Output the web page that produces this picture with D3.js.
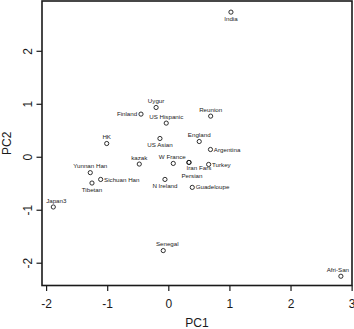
<!DOCTYPE html>
<html>
<head>
<meta charset="utf-8">
<script src="https://cdn.jsdelivr.net/npm/d3@7/dist/d3.min.js"></script>
<style>
  html, body { margin: 0; padding: 0; background: #fff; }
  svg { display: block; font-family: "Liberation Sans", Arial, Helvetica, sans-serif; }
</style>
</head>
<body>
<svg id="chart" width="354" height="329"></svg>
<script>
// ---- data ----
const populations = ["India", "Uygur", "Finland", "US Hispanic", "Reunion", "HK", "US Asian",
  "England", "Argentina", "W France", "Iran Fars", "Persian", "Turkey", "N Ireland",
  "Guadeloupe", "kazak", "Yunnan Han", "Sichuan Han", "Tibetan", "Japan3", "Senegal", "Afri-San"];
const pc1 = [1.025, -0.20, -0.447, -0.034, 0.693, -1.008, -0.137,
  0.506, 0.69, 0.081, 0.338, 0.338, 0.66, -0.055,
  0.392, -0.475, -1.277, -1.107, -1.249, -1.882, -0.083, 2.824];
const pc2 = [2.73, 0.93, 0.805, 0.635, 0.767, 0.25, 0.345,
  0.288, 0.137, -0.126, -0.107, -0.107, -0.145, -0.428,
  -0.578, -0.138, -0.30, -0.428, -0.496, -0.948, -1.771, -2.255];
const xTicks = [-2, -1, 0, 1, 2, 3];
const yTicks = [-2, -1, 0, 1, 2];
const xLimits = [-2.067, 3.006];
const yLimits = [-2.43, 2.94];

// label placement (R-style pos: 1 below, 2 left, 3 above, 4 right)
const labelPos = [1, 3, 2, 3, 3, 3, 1, 3, 4, 3, 1, 1, 4, 1, 4, 3, 3, 4, 1, 3, 3, 3];
const labelNudge = { "Iran Fars": [10, -1], "Persian": [3, 7], "Senegal": [4, 0], "Japan3": [3, 0], "Afri-San": [-3, 0], "W France": [-1, 0] };

// ---- layout ----
const svg = d3.select("#chart");
const box = { left: 42, right: 352, top: 1, bottom: 285.5 };
const x = d3.scaleLinear().domain(xLimits).range([box.left, box.right]);
const y = d3.scaleLinear().domain(yLimits).range([box.bottom, box.top]);
const ink = "#1a1a1a";
const fmt = d => d < 0 ? "-" + Math.abs(d) : String(d);

// axes
const xAxis = d3.axisBottom(x).tickValues(xTicks).tickFormat(fmt).tickSize(5.5).tickPadding(8);
const gx = svg.append("g").attr("transform", `translate(0,${box.bottom})`).call(xAxis);
gx.select(".domain").remove();
gx.selectAll(".tick line").attr("stroke", ink).attr("stroke-width", 1.2);
gx.selectAll(".tick text").attr("fill", ink).attr("font-size", 12).attr("dy", "0.71em");

const yAxis = d3.axisLeft(y).tickValues(yTicks).tickFormat(fmt).tickSize(5.5).tickPadding(0);
const gy = svg.append("g").attr("transform", `translate(${box.left},0)`).call(yAxis);
gy.select(".domain").remove();
gy.selectAll(".tick line").attr("stroke", ink).attr("stroke-width", 1.2);
gy.selectAll(".tick text")
  .attr("fill", ink).attr("font-size", 12)
  .attr("x", null).attr("dy", null)
  .attr("text-anchor", "middle")
  .attr("transform", "translate(-10,0) rotate(-90)")
  .attr("y", 0);

// box
svg.append("rect")
  .attr("x", box.left).attr("y", box.top)
  .attr("width", box.right - box.left).attr("height", box.bottom - box.top)
  .attr("fill", "none").attr("stroke", ink).attr("stroke-width", 1.6);

// axis titles
svg.append("text").attr("x", (box.left + box.right) / 2).attr("y", 327)
  .attr("text-anchor", "middle").attr("font-size", 12).attr("fill", ink).text("PC1");
svg.append("text").attr("transform", `translate(11,${(box.top + box.bottom) / 2}) rotate(-90)`)
  .attr("text-anchor", "middle").attr("font-size", 12).attr("fill", ink).text("PC2");

// points
const data = populations.map((name, i) => ({ name, x: pc1[i], y: pc2[i], pos: labelPos[i] }));
svg.append("g").selectAll("circle").data(data).join("circle")
  .attr("cx", d => x(d.x)).attr("cy", d => y(d.y)).attr("r", 2.1)
  .attr("fill", "none").attr("stroke", ink).attr("stroke-width", 0.9);

// labels
svg.append("g").selectAll("text").data(data).join("text")
  .attr("font-size", 6.2).attr("fill", ink)
  .each(function (d) {
    const el = d3.select(this);
    let px = x(d.x), py = y(d.y), anchor = "middle";
    if (d.pos === 1) { py += 8.6; }
    else if (d.pos === 3) { py -= 4.2; }
    else if (d.pos === 2) { px -= 3.8; py += 2.1; anchor = "end"; }
    else if (d.pos === 4) { px += 3.4; py += 2.1; anchor = "start"; }
    const n = labelNudge[d.name];
    if (n) { px += n[0]; py += n[1]; }
    el.attr("x", px).attr("y", py).attr("text-anchor", anchor).text(d.name);
  });
</script>
</body>
</html>
